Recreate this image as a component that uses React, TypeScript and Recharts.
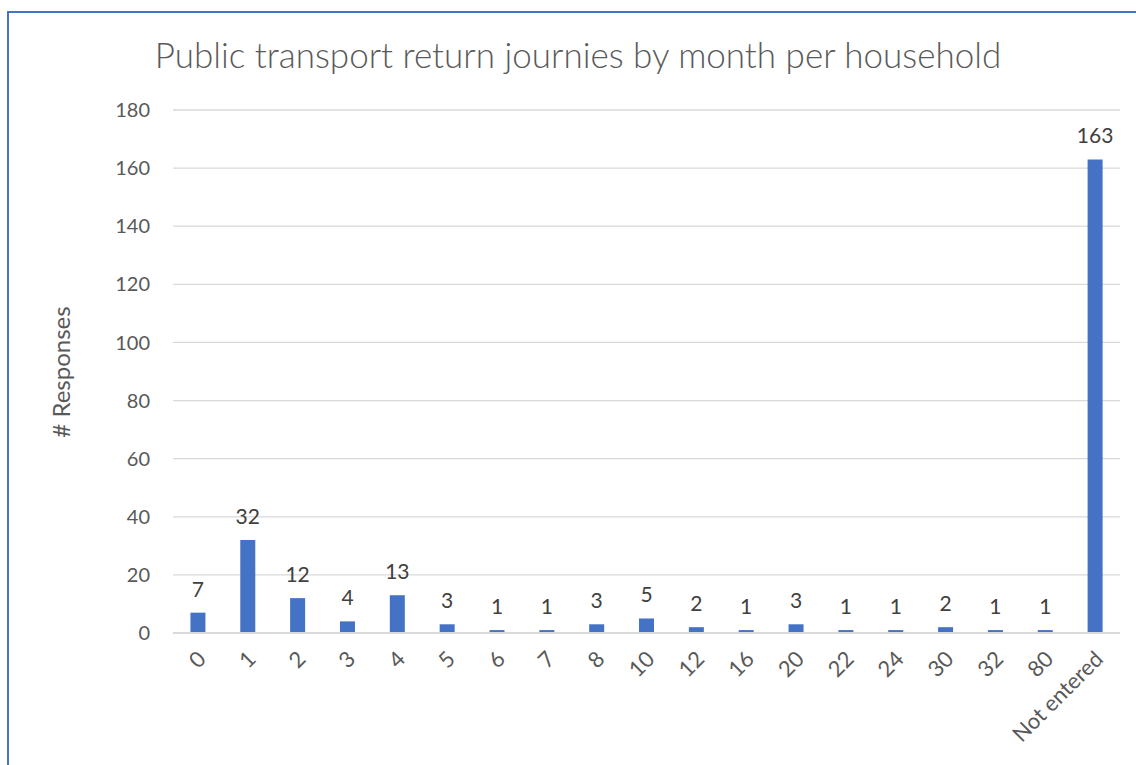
import React from 'react';
import { BarChart, Bar, XAxis, YAxis, CartesianGrid, LabelList } from 'recharts';

const categories = ['0', '1', '2', '3', '4', '5', '6', '7', '8', '10', '12', '16', '20', '22', '24', '30', '32', '80', 'Not entered'];
const responses = [7, 32, 12, 4, 13, 3, 1, 1, 3, 5, 2, 1, 3, 1, 1, 2, 1, 1, 163];
const yTicks = [0, 20, 40, 60, 80, 100, 120, 140, 160, 180];

const data = categories.map((c, i) => ({ name: c, value: responses[i] }));

const FONT = 'Lato, "Open Sans", sans-serif';
const TEXT = '#595959';

const XTick = (props: any) => {
  const { x, y, payload } = props;
  return (
    <g transform={`translate(${x + 4},${y + 14}) rotate(-45)`}>
      <text x={0} y={0} dy="0.35em" textAnchor="end" fill={TEXT} fontSize={22} fontFamily={FONT}>
        {payload.value}
      </text>
    </g>
  );
};

export default function App() {
  return (
    <div style={{ position: 'absolute', left: 0, top: 0, width: 1136, height: 765, background: '#fff', overflow: 'hidden' }}>
      <div style={{ position: 'absolute', left: 7, top: 11, width: 1300, height: 1000, borderLeft: '2px solid #4472C4', borderTop: '2px solid #4472C4' }} />
      <div style={{ position: 'absolute', left: 0, top: 0 }}>
        <BarChart width={1136} height={765} data={data} margin={{ top: 110, right: 16, bottom: 0, left: 0 }} barCategoryGap="35%">
          <text x={578} y={68} textAnchor="middle" fill={TEXT} fontSize={35} fontWeight={300} fontFamily={FONT}>
            Public transport return journies by month per household
          </text>
          <text transform="translate(70,372) rotate(-90)" textAnchor="middle" fill={TEXT} fontSize={24} fontFamily={FONT}>
            # Responses
          </text>
          <CartesianGrid vertical={false} stroke="#d9d9d9" strokeWidth={1.3} />
          <XAxis dataKey="name" interval={0} tick={<XTick />} tickLine={false} axisLine={{ stroke: '#d9d9d9', strokeWidth: 2 }} height={132} />
          <YAxis domain={[0, 180]} ticks={yTicks} width={173} tickSize={0} tickMargin={23} axisLine={false} tickLine={false}
            tick={{ fill: TEXT, fontSize: 20, fontFamily: FONT }} />
          <Bar dataKey="value" fill="#4472C4" isAnimationActive={false}>
            <LabelList dataKey="value" position="top" offset={16} fill="#404040" fontSize={21} fontFamily={FONT} />
          </Bar>
        </BarChart>
      </div>
    </div>
  );
}
